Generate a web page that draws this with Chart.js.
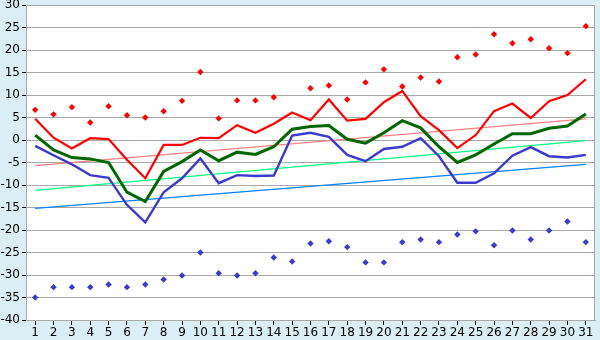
<!DOCTYPE html>
<html>
<head>
<meta charset="utf-8">
<script src="https://cdn.jsdelivr.net/npm/chart.js@4"></script>
<style>
  html, body { margin: 0; padding: 0; background: #d9eef5; }
  #wrap { width: 600px; height: 340px; }
</style>
</head>
<body>
<div id="wrap"><canvas id="chart" width="600" height="340"></canvas></div>
<script>
// days of month
const days = ['1','2','3','4','5','6','7','8','9','10','11','12','13','14','15','16','17','18','19','20','21','22','23','24','25','26','27','28','29','30','31'];

// daily maximum (red diamonds)
const maxPoints = [6.7, 5.7, 7.3, 3.9, 7.5, 5.5, 5.0, 6.4, 8.7, 15.1, 4.8, 8.8, 8.8, 9.5, null, 11.5, 12.1, 9.0, 12.8, 15.7,
  11.9, 13.9, 13.0, 18.4, 19.0, 23.5, 21.5, 22.4, 20.4, 19.3, 25.3];
// daily minimum (blue diamonds)
const minPoints = [-35.0, -32.7, -32.7, -32.7, -32.1, -32.7, -32.1, -31.0, -30.1, -25.0, -29.6, -30.1, -29.6, -26.1, -27.0, -23.0, -22.5, -23.8, -27.2, -27.2,
  -22.7, -22.1, -22.7, -21.0, -20.3, -23.4, -20.1, -22.1, -20.1, -18.1, -22.7];

// red / green / blue lines
const redLine = [4.7, 0.5, -1.9, 0.4, 0.2, -4.4, -8.5, -1.1, -1.1, 0.5, 0.4, 3.3, 1.6, 3.6, 6.1, 4.4, 9.0, 4.3, 4.7, 8.4,
  10.9, 5.3, 2.2, -1.8, 1.1, 6.4, 8.1, 4.9, 8.6, 10.0, 13.5];
const greenLine = [1.1, -2.2, -3.9, -4.2, -5.0, -11.6, -13.7, -7.0, -4.8, -2.2, -4.6, -2.7, -3.2, -1.5, 2.4, 3.0, 3.2, 0.15, -0.7, 1.6,
  4.3, 2.7, -1.5, -5.0, -3.3, -0.9, 1.4, 1.4, 2.6, 3.1, 5.8];
const blueLine = [-1.3, -3.4, -5.4, -7.8, -8.4, -14.4, -18.3, -11.6, -8.5, -4.1, -9.6, -7.8, -8.0, -7.9, 1.0, 1.6, 0.7, -3.3, -4.7, -2.0,
  -1.5, 0.4, -3.6, -9.5, -9.5, -7.4, -3.5, -1.6, -3.6, -3.9, -3.3];

// trend lines, value at day 1 and day 31
const redTrend = [-5.7, 4.7];
const greenTrend = [-11.2, -0.15];
const blueTrend = [-15.2, -5.4];

const yTicks = { min: -40, max: 30, step: 5 };

const trend = (ends) => [{ x: days[0], y: ends[0] }, { x: days[days.length - 1], y: ends[1] }];

// background of the plot area + top/right border
const plotBg = {
  id: 'plotBg',
  beforeDraw(chart) {
    const { ctx, chartArea: a } = chart;
    ctx.save();
    ctx.fillStyle = '#d9eef5';
    ctx.fillRect(0, 0, chart.width, chart.height);
    ctx.fillStyle = '#ffffff';
    ctx.fillRect(a.left, a.top, a.right - a.left, a.bottom - a.top);
    ctx.restore();
  },
  afterDraw(chart) {
    const { ctx, chartArea: a } = chart;
    ctx.save();
    ctx.strokeStyle = '#a8a8a8';
    ctx.lineWidth = 1;
    ctx.beginPath();
    ctx.moveTo(a.left, a.top + 0.5);
    ctx.lineTo(a.right - 0.5, a.top + 0.5);
    ctx.lineTo(a.right - 0.5, a.bottom);
    ctx.stroke();
    ctx.restore();
  }
};

new Chart(document.getElementById('chart'), {
  type: 'line',
  data: {
    labels: days,
    datasets: [
      { data: maxPoints, showLine: false, pointStyle: 'rectRot', pointRadius: 3.2, pointBackgroundColor: '#ff0000', pointBorderWidth: 0, order: 0 },
      { data: minPoints, showLine: false, pointStyle: 'rectRot', pointRadius: 3.2, pointBackgroundColor: '#3a3acc', pointBorderWidth: 0, order: 0 },
      { data: redLine, borderColor: '#ff0000', borderWidth: 2.2, pointRadius: 0, tension: 0, order: 1 },
      { data: greenLine, borderColor: '#006600', borderWidth: 3, pointRadius: 0, tension: 0, order: 2 },
      { data: blueLine, borderColor: '#3a3acc', borderWidth: 2.4, pointRadius: 0, tension: 0, order: 3 },
      { data: trend(redTrend), borderColor: '#ff8080', borderWidth: 1.3, pointRadius: 0, order: 5 },
      { data: trend(greenTrend), borderColor: '#00ff80', borderWidth: 1.3, pointRadius: 0, order: 5 },
      { data: trend(blueTrend), borderColor: '#0080ff', borderWidth: 1.3, pointRadius: 0, order: 5 }
    ]
  },
  options: {
    responsive: false,
    animation: false,
    devicePixelRatio: 1,
    layout: { padding: { top: 5, right: 5, left: 0, bottom: 0 } },
    plugins: { legend: { display: false }, tooltip: { enabled: false } },
    scales: {
      x: {
        offset: true,
        grid: { drawOnChartArea: false, drawTicks: true, tickLength: 5, tickColor: '#000000', offset: false },
        border: { display: true, color: '#a8a8a8' },
        ticks: { color: '#000000', font: { family: 'DejaVu Sans', size: 12 }, padding: 1, maxRotation: 0, autoSkip: false },
        afterFit(scale) { scale.height = 20; }
      },
      y: {
        min: yTicks.min,
        max: yTicks.max,
        grid: { color: '#a8a8a8', lineWidth: 1, tickLength: 4, tickColor: '#000000' },
        border: { display: true, color: '#a8a8a8' },
        ticks: { stepSize: yTicks.step, color: '#000000', font: { family: 'DejaVu Sans', size: 12, lineHeight: 1 }, padding: 2 },
        afterFit(scale) { scale.width = 26; scale.paddingTop = 0; scale.paddingBottom = 0; }
      }
    }
  },
  plugins: [plotBg]
});
</script>
</body>
</html>
